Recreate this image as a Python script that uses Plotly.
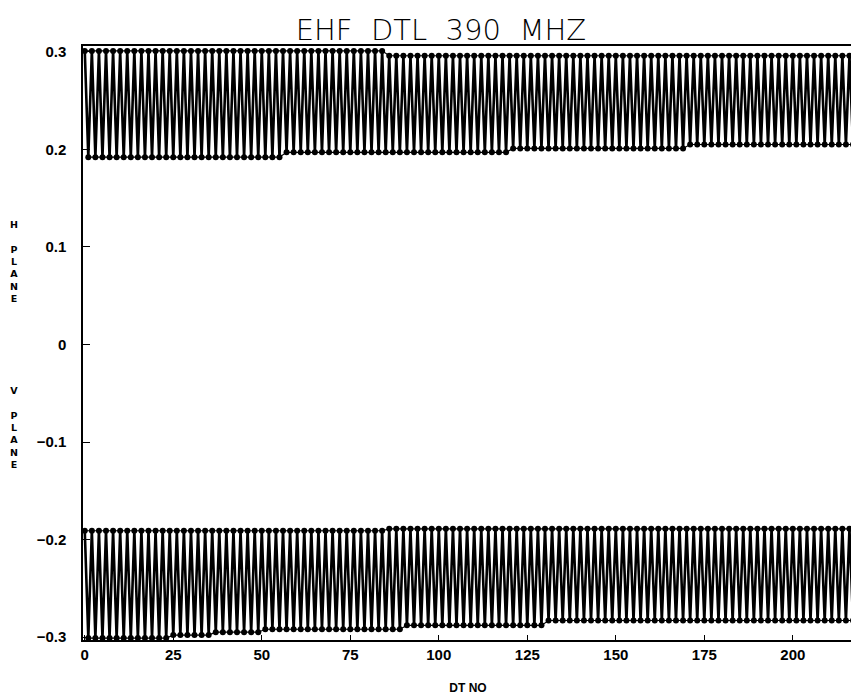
import plotly.graph_objects as go

# DT numbers (peak positions at even DT, trough positions at odd DT)
dt_even = list(range(0, 218, 2))
dt_odd = list(range(1, 218, 2))

# H plane envelope values
h_max = [
    0.301, 0.301, 0.301, 0.301, 0.301, 0.301, 0.301, 0.301, 0.301, 0.301,
    0.301, 0.301, 0.301, 0.301, 0.301, 0.301, 0.301, 0.301, 0.301, 0.301,
    0.301, 0.301, 0.301, 0.301, 0.301, 0.301, 0.301, 0.301, 0.301, 0.301,
    0.301, 0.301, 0.301, 0.301, 0.301, 0.301, 0.301, 0.301, 0.301, 0.301,
    0.301, 0.301, 0.301, 0.296, 0.296, 0.296, 0.296, 0.296, 0.296, 0.296,
    0.296, 0.296, 0.296, 0.296, 0.296, 0.296, 0.296, 0.296, 0.296, 0.296,
    0.296, 0.296, 0.296, 0.296, 0.296, 0.296, 0.296, 0.296, 0.296, 0.296,
    0.296, 0.296, 0.296, 0.296, 0.296, 0.296, 0.296, 0.296, 0.296, 0.296,
    0.296, 0.296, 0.296, 0.296, 0.296, 0.296, 0.296, 0.296, 0.296, 0.296,
    0.296, 0.296, 0.296, 0.296, 0.296, 0.296, 0.296, 0.296, 0.296, 0.296,
    0.296, 0.296, 0.296, 0.296, 0.296, 0.296, 0.296, 0.296, 0.296,
]
h_min = [
    0.192, 0.192, 0.192, 0.192, 0.192, 0.192, 0.192, 0.192, 0.192, 0.192,
    0.192, 0.192, 0.192, 0.192, 0.192, 0.192, 0.192, 0.192, 0.192, 0.192,
    0.192, 0.192, 0.192, 0.192, 0.192, 0.192, 0.192, 0.192, 0.197, 0.197,
    0.197, 0.197, 0.197, 0.197, 0.197, 0.197, 0.197, 0.197, 0.197, 0.197,
    0.197, 0.197, 0.197, 0.197, 0.197, 0.197, 0.197, 0.197, 0.197, 0.197,
    0.197, 0.197, 0.197, 0.197, 0.197, 0.197, 0.197, 0.197, 0.197, 0.197,
    0.201, 0.201, 0.201, 0.201, 0.201, 0.201, 0.201, 0.201, 0.201, 0.201,
    0.201, 0.201, 0.201, 0.201, 0.201, 0.201, 0.201, 0.201, 0.201, 0.201,
    0.201, 0.201, 0.201, 0.201, 0.201, 0.205, 0.205, 0.205, 0.205, 0.205,
    0.205, 0.205, 0.205, 0.205, 0.205, 0.205, 0.205, 0.205, 0.205, 0.205,
    0.205, 0.205, 0.205, 0.205, 0.205, 0.205, 0.205, 0.205, 0.205,
]

# V plane envelope values
v_max = [
    -0.191, -0.191, -0.191, -0.191, -0.191, -0.191, -0.191, -0.191, -0.191, -0.191,
    -0.191, -0.191, -0.191, -0.191, -0.191, -0.191, -0.191, -0.191, -0.191, -0.191,
    -0.191, -0.191, -0.191, -0.191, -0.191, -0.191, -0.191, -0.191, -0.191, -0.191,
    -0.191, -0.191, -0.191, -0.191, -0.191, -0.191, -0.191, -0.191, -0.191, -0.191,
    -0.191, -0.191, -0.191, -0.189, -0.189, -0.189, -0.189, -0.189, -0.189, -0.189,
    -0.189, -0.189, -0.189, -0.189, -0.189, -0.189, -0.189, -0.189, -0.189, -0.189,
    -0.189, -0.189, -0.189, -0.189, -0.189, -0.189, -0.189, -0.189, -0.189, -0.189,
    -0.189, -0.189, -0.189, -0.189, -0.189, -0.189, -0.189, -0.189, -0.189, -0.189,
    -0.189, -0.189, -0.189, -0.189, -0.189, -0.189, -0.189, -0.189, -0.189, -0.189,
    -0.189, -0.189, -0.189, -0.189, -0.189, -0.189, -0.189, -0.189, -0.189, -0.189,
    -0.189, -0.189, -0.189, -0.189, -0.189, -0.189, -0.189, -0.189, -0.189,
]
v_min = [
    -0.301, -0.301, -0.301, -0.301, -0.301, -0.301, -0.301, -0.301, -0.301, -0.301,
    -0.301, -0.301, -0.298, -0.298, -0.298, -0.298, -0.298, -0.298, -0.295, -0.295,
    -0.295, -0.295, -0.295, -0.295, -0.295, -0.292, -0.292, -0.292, -0.292, -0.292,
    -0.292, -0.292, -0.292, -0.292, -0.292, -0.292, -0.292, -0.292, -0.292, -0.292,
    -0.292, -0.292, -0.292, -0.292, -0.292, -0.288, -0.288, -0.288, -0.288, -0.288,
    -0.288, -0.288, -0.288, -0.288, -0.288, -0.288, -0.288, -0.288, -0.288, -0.288,
    -0.288, -0.288, -0.288, -0.288, -0.288, -0.283, -0.283, -0.283, -0.283, -0.283,
    -0.283, -0.283, -0.283, -0.283, -0.283, -0.283, -0.283, -0.283, -0.283, -0.283,
    -0.283, -0.283, -0.283, -0.283, -0.283, -0.283, -0.283, -0.283, -0.283, -0.283,
    -0.283, -0.283, -0.283, -0.283, -0.283, -0.283, -0.283, -0.283, -0.283, -0.283,
    -0.283, -0.283, -0.283, -0.283, -0.283, -0.283, -0.283, -0.283, -0.283,
]

y_tick_vals = [-0.3, -0.2, -0.1, 0, 0.1, 0.2, 0.3]
y_tick_text = ["\u22120.3", "\u22120.2", "\u22120.1", "0", "0.1", "0.2", "0.3"]
x_tick_vals = [0, 25, 50, 75, 100, 125, 150, 175, 200]

for arr in (h_max, h_min, v_max, v_min):
    assert len(arr) == len(dt_even), len(arr)


def zigzag(hi, lo):
    xs, ys = [], []
    for xe, xo, a, b in zip(dt_even, dt_odd, hi, lo):
        xs += [xe, xo]
        ys += [a, b]
    return xs, ys


fig = go.Figure()
for hi, lo in ((h_max, h_min), (v_max, v_min)):
    xs, ys = zigzag(hi, lo)
    fig.add_trace(go.Scatter(x=xs, y=ys, mode="lines",
                             line=dict(color="black", width=2.6), hoverinfo="skip"))
    fig.add_trace(go.Scatter(x=dt_even, y=hi, mode="lines+markers",
                             line=dict(color="black", width=1.2),
                             marker=dict(color="black", size=6)))
    fig.add_trace(go.Scatter(x=dt_odd, y=lo, mode="lines+markers",
                             line=dict(color="black", width=1.2),
                             marker=dict(color="black", size=6)))

axis_font = dict(family="Liberation Sans", size=15, color="black", weight="bold")
NB = "\u00a0"

fig.update_layout(
    width=859, height=698,
    margin=dict(l=75, r=14, t=38, b=66),
    paper_bgcolor="white", plot_bgcolor="white",
    showlegend=False,
    title=dict(text=f"EHF{NB}{NB}DTL{NB}{NB}390{NB}{NB}MHZ", x=0.504, xanchor="center",
               y=0.968, yanchor="middle",
               font=dict(family="DejaVu Sans", size=29, color="black", weight=200)),
    xaxis=dict(range=[-0.5, 217], tickvals=x_tick_vals, ticks="inside", ticklen=5,
               tickcolor="black", showline=True, linecolor="black", linewidth=1.5,
               mirror=True, showgrid=False, zeroline=False, tickfont=axis_font,
               automargin=False,
               title=dict(text="DT NO", standoff=22,
                          font=dict(family="Liberation Sans", size=12, color="black",
                                    weight="bold"))),
    yaxis=dict(range=[-0.303, 0.306], tickvals=y_tick_vals, ticktext=y_tick_text,
               ticks="inside", ticklen=7, tickcolor="black", showline=True,
               linecolor="black", linewidth=1.5, mirror=True, showgrid=False,
               zeroline=False, tickfont=axis_font, ticklabelstandoff=12,
               automargin=False),
)

# stacked vertical axis labels
for label, yc in (("H", 0.085), ("V", -0.085)):
    stacked = "<br>".join([label, ""] + list("PLANE"))
    fig.add_annotation(text=stacked, x=-0.09, y=yc, xref="paper", yref="y",
                       showarrow=False, xanchor="center", yanchor="middle",
                       font=dict(family="DejaVu Sans", size=9.5, color="black",
                                 weight="bold"))

fig.write_html("out.html")
